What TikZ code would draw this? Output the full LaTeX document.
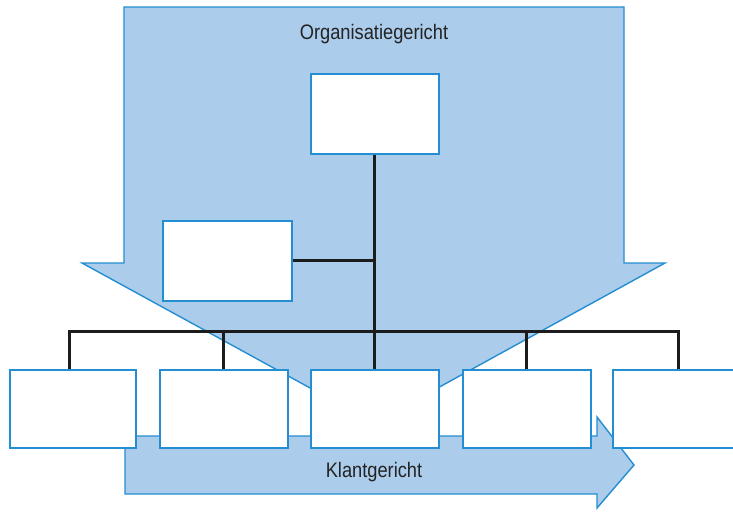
\documentclass[tikz,border=0pt]{standalone}
\usepackage{fontspec}
\setmainfont{Liberation Sans}
\definecolor{arrowfill}{RGB}{171,204,234}
\definecolor{edgeblue}{RGB}{36,142,210}
\definecolor{linkblack}{RGB}{28,28,28}
\definecolor{textgray}{RGB}{35,35,35}
\newcommand{\narrowtext}[1]{\scalebox{0.87}[1]{#1}}
\tikzset{
  bigarrow/.style={fill=arrowfill, draw=edgeblue, line width=1.4pt, line join=miter},
  orgbox/.style={draw=edgeblue, fill=white, line width=1.6pt, minimum width=127pt, minimum height=79pt, inner sep=0pt, anchor=north west},
  link/.style={draw=linkblack, line width=3pt},
  arrowlabel/.style={text=textgray, font=\fontsize{21}{24}\selectfont, inner sep=0pt, anchor=base}
}
\begin{document}
\begin{tikzpicture}[x=1pt,y=-1pt]
\useasboundingbox (0,0) rectangle (733,511);
% top arrow (organisation-directed)
\draw[bigarrow] (124,7) -- (624,7) -- (624,263) -- (665,263) -- (374,423) -- (82,263) -- (124,263) -- cycle;
% bottom arrow (client-directed)
\draw[bigarrow] (125,436) -- (597,436) -- (597,417) -- (634,465) -- (597,508) -- (597,494) -- (125,494) -- cycle;
\node[arrowlabel] (orglabel) at (374,39.5) {\narrowtext{Organisatiegericht}};
% boxes
\node[orgbox, minimum width=128pt, minimum height=80pt] (top) at (310,73) {};
\node[orgbox, minimum width=129pt, minimum height=80pt] (left) at (162,220) {};
\node[orgbox, minimum width=126pt, minimum height=78pt] (b1) at (9,369) {};
\node[orgbox, minimum width=128pt, minimum height=78pt] (b2) at (159,369) {};
\node[orgbox, minimum width=128pt, minimum height=78pt] (b3) at (310,369) {};
\node[orgbox, minimum width=128pt, minimum height=78pt] (b4) at (462,369) {};
\node[orgbox, minimum width=132pt, minimum height=78pt] (b5) at (612,369) {};
\node[arrowlabel] (klantlabel) at (374,477) {\narrowtext{Klantgericht}};
% connectors
\coordinate (bus) at (374,331);
\draw[link] (top.south) -- (b3.north);
\draw[link] (left.east) -- (left.east -| top.south);
\draw[link] ([xshift=-3pt]b1.north) |- (bus) -| (b5.north);
\draw[link] (b2.north) -- (b2.north |- bus);
\draw[link] (b4.north) -- (b4.north |- bus);
\end{tikzpicture}
\end{document}
